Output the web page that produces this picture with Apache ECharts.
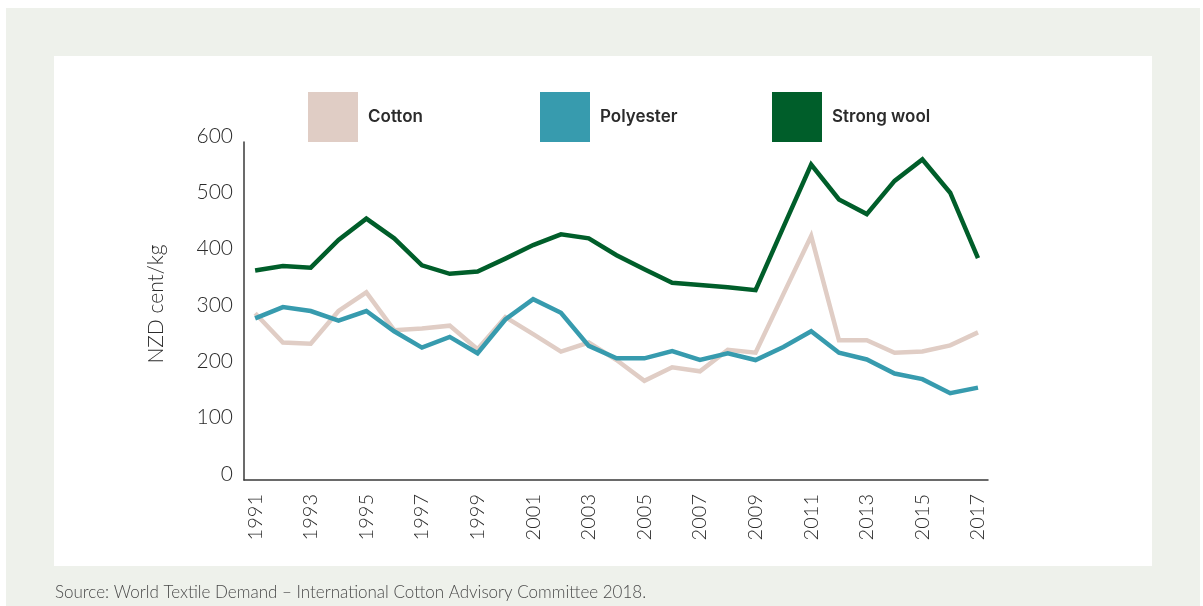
<!DOCTYPE html>
<html>
<head>
<meta charset="utf-8">
<script src="https://cdn.jsdelivr.net/npm/echarts@6/dist/echarts.min.js"></script>
<style>
  html, body { margin: 0; padding: 0; background: #ffffff; }
  #chart { width: 1203px; height: 606px; }
</style>
</head>
<body>
<div id="chart"></div>
<script>
// Fibre prices, NZD cents per kg
const years = [1991, 1992, 1993, 1994, 1995, 1996, 1997, 1998, 1999, 2000,
  2001, 2002, 2003, 2004, 2005, 2006, 2007, 2008, 2009, 2010,
  2011, 2012, 2013, 2014, 2015, 2016, 2017];
const cotton = [296, 244, 242, 300, 333, 266, 269, 274, 232, 289,
  259, 228, 244, 213, 176, 200, 193, 231, 226, 330,
  433, 248, 248, 226, 228, 239, 262];
const polyester = [287, 307, 300, 283, 300, 264, 235, 254, 225, 285,
  321, 297, 238, 216, 216, 229, 213, 225, 213, 236,
  264, 226, 214, 189, 179, 154, 164];
const strongWool = [372, 380, 377, 426, 464, 429, 381, 366, 370, 393,
  417, 436, 429, 399, 374, 350, 346, 342, 337, 449,
  560, 498, 472, 531, 569, 510, 394];
const yearTicks = [1991, 1993, 1995, 1997, 1999, 2001, 2003, 2005, 2007,
  2009, 2011, 2013, 2015, 2017];
const valueTicks = [0, 100, 200, 300, 400, 500, 600];

const seriesNames = ['Cotton', 'Polyester', 'Strong wool'];
const seriesColors = ['#e0cdc5', '#379bae', '#005e2a'];
const seriesValues = [cotton, polyester, strongWool];

const FONT = 'Lato, Inter, "Noto Sans", sans-serif';
const LEGEND_FONT = 'Inter, "Noto Sans", sans-serif';

const chart = echarts.init(document.getElementById('chart'), null, { renderer: 'canvas' });

// one legend per series so the swatches sit at an even pitch
const legendLefts = [308, 540, 772];
const legends = seriesNames.map((name, i) => ({
  left: legendLefts[i], top: 92,
  padding: 0,
  icon: 'rect',
  itemWidth: 50, itemHeight: 50,
  data: [name],
  selectedMode: false,
  textStyle: { fontFamily: LEGEND_FONT, fontSize: 17, fontWeight: 600, color: '#2b2b2b',
    padding: [0, 0, 0, 5] }
}));

chart.setOption({
  backgroundColor: '#ffffff',
  animation: false,
  graphic: [
    { type: 'rect', z: -10, shape: { x: 6, y: 8, width: 1194, height: 598 },
      style: { fill: '#eef1eb' } },
    { type: 'rect', z: -9, shape: { x: 54, y: 56, width: 1098, height: 510 },
      style: { fill: '#ffffff' } },
    // value-axis title
    { type: 'text', x: 156, y: 304, rotation: Math.PI / 2,
      style: { text: 'NZD cent/kg', align: 'center', verticalAlign: 'middle',
        fill: '#2b2b2b', font: '300 21px ' + FONT } },
    { type: 'text', left: 55, top: 584,
      style: { text: 'Source: World Textile Demand \u2013 International Cotton Advisory Committee 2018.',
        fill: '#4a4a4a', font: '300 17px ' + FONT } }
  ],
  legend: legends,
  grid: { left: 244, right: 215, top: 142, bottom: 126, containLabel: false },
  xAxis: {
    type: 'value',
    min: 1990.6, max: 2017.36,
    axisLine: { show: true, lineStyle: { color: '#3a3a3a', width: 1.5 } },
    axisTick: { show: false },
    splitLine: { show: false },
    axisLabel: {
      customValues: yearTicks,
      formatter: v => String(v),
      rotate: 90,
      margin: 14,
      fontFamily: FONT, fontSize: 20, fontWeight: 300, color: '#2b2b2b'
    }
  },
  yAxis: {
    type: 'value',
    min: 0, max: 600, interval: 100,
    axisLine: { show: true, lineStyle: { color: '#3a3a3a', width: 1.5 } },
    axisTick: { show: false },
    splitLine: { show: false },
    axisLabel: {
      customValues: valueTicks,
      margin: 11,
      verticalAlign: 'bottom',
      lineHeight: 12,
      fontFamily: FONT, fontSize: 21, fontWeight: 300, color: '#2b2b2b'
    }
  },
  series: seriesNames.map((name, i) => ({
    name: name,
    type: 'line',
    symbol: 'none',
    color: seriesColors[i],
    itemStyle: { color: seriesColors[i] },
    lineStyle: { color: seriesColors[i], width: 4.5, cap: 'butt', join: 'miter' },
    data: years.map((y, k) => [y, seriesValues[i][k]]),
    z: 2 + i
  }))
});
</script>
</body>
</html>
